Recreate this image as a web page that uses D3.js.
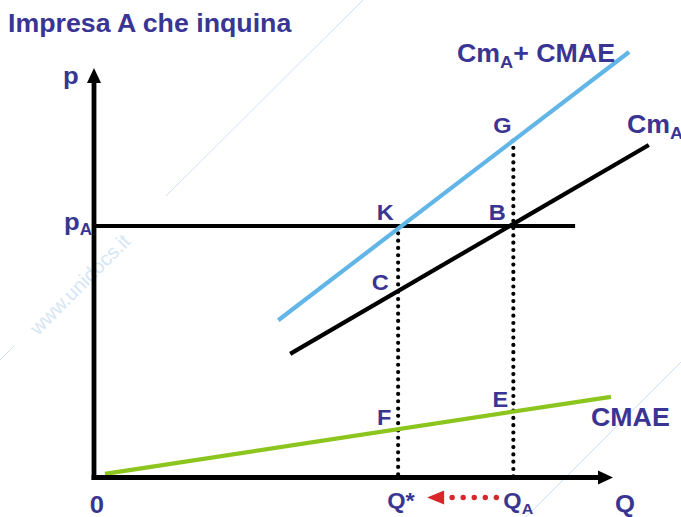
<!DOCTYPE html>
<html>
<head>
<meta charset="utf-8">
<script src="https://cdn.jsdelivr.net/npm/d3@7/dist/d3.min.js"></script>
<style>
  html, body { margin: 0; padding: 0; background: #fff; }
  svg { display: block; }
  text { font-family: "Liberation Sans", Arial, sans-serif; }
</style>
</head>
<body>
<svg id="chart" width="681" height="517"></svg>
<script>
// Quantity (Q) and price (p) on a 0–100 scale.
const cmaeLine = [[2.1, 0.9], [99.6, 19.7]];      // CMAE: external marginal cost
const cmALine  = [[37.8, 30.2], [106.9, 81.2]];   // Cm_A: private marginal cost
const sumLine  = [[35.5, 38.4], [103.1, 103.9]];  // Cm_A + CMAE
const priceA = 61.4;
const priceExtent = [0, 92.7];
const qStar = 58.6;
const qA = 80.8;
const pointNames = ["K", "B", "C", "G", "F", "E"];

const W = 681, H = 517;
const INK = "#3a3592";
const svg = d3.select("#chart");

const x = d3.scaleLinear().domain([0, 100]).range([94, 613]);
const y = d3.scaleLinear().domain([0, 100]).range([477.5, 68]);

// value of a straight line (two end points) at quantity q
function at(line, q) {
  const [[q0, p0], [q1, p1]] = line;
  return p0 + (p1 - p0) * (q - q0) / (q1 - q0);
}

// faint diagonal watermark
const wm = svg.append("g").attr("stroke", "#cfe1f3").attr("stroke-width", 1);
wm.append("line").attr("x1", 363).attr("y1", 0).attr("x2", 166).attr("y2", 196);
wm.append("line").attr("x1", 14).attr("y1", 346).attr("x2", 0).attr("y2", 360);
wm.append("line").attr("x1", 682).attr("y1", 361).attr("x2", 525).attr("y2", 518);
svg.append("text").text("www.unidocs.it")
  .attr("transform", "translate(38,336) rotate(-45)")
  .attr("font-size", 20)
  .style("font-weight", "normal")
  .attr("fill", "#d6e6f5");

// scaled text helper (slightly wide lettering)
function label(g, px, py, size, anchor) {
  return g.append("text")
    .attr("transform", `translate(${px},${py}) scale(1.07,1)`)
    .attr("font-size", size)
    .style("font-weight", "bold")
    .attr("text-anchor", anchor || "start")
    .attr("fill", INK);
}

const lineGen = d3.line().x(d => x(d[0])).y(d => y(d[1]));

// price line p_A
svg.append("path")
  .attr("d", lineGen([[priceExtent[0], priceA], [priceExtent[1], priceA]]))
  .attr("stroke", "#000").attr("stroke-width", 4).attr("fill", "none");

// dotted verticals at Q* and Q_A
const dotted = [
  [[qStar, priceA], [qStar, 0]],
  [[qA, at(sumLine, qA)], [qA, 0]]
];
svg.selectAll("path.dot").data(dotted).join("path")
  .attr("class", "dot")
  .attr("d", lineGen)
  .attr("stroke", "#000").attr("stroke-width", 4.2)
  .attr("stroke-linecap", "round")
  .attr("stroke-dasharray", "0 7.3")
  .attr("fill", "none");

// curves
const curves = [
  { data: cmaeLine, color: "#8cc51e" },
  { data: cmALine,  color: "#000000" },
  { data: sumLine,  color: "#62b6e7" }
];
svg.selectAll("path.curve").data(curves).join("path")
  .attr("class", "curve")
  .attr("d", d => lineGen(d.data))
  .attr("stroke", d => d.color).attr("stroke-width", 4.2)
  .attr("fill", "none");

// axes with arrow heads
const x0 = x(0), y0 = y(0), xTip = x(100), yTip = y(100);
svg.append("line").attr("x1", x0).attr("y1", y0 + 2.4).attr("x2", x0).attr("y2", yTip + 12)
  .attr("stroke", "#000").attr("stroke-width", 4.8);
svg.append("path")
  .attr("d", `M${x0},${yTip} L${x0 + 7},${yTip + 15} L${x0 - 7},${yTip + 15} Z`)
  .attr("fill", "#000");
svg.append("line").attr("x1", x0 - 2.4).attr("y1", y0).attr("x2", xTip - 12).attr("y2", y0)
  .attr("stroke", "#000").attr("stroke-width", 4.8);
svg.append("path")
  .attr("d", `M${xTip},${y0} L${xTip - 15},${y0 - 7} L${xTip - 15},${y0 + 7} Z`)
  .attr("fill", "#000");

// red arrow from Q_A back to Q*
const RED = "#d8262b";
const aStart = x(qStar) + 29, aEnd = x(qA) - 17, ay = y0 + 20;
svg.append("path")
  .attr("d", `M${aStart},${ay} L${aStart + 17},${ay - 7} L${aStart + 17},${ay + 7} Z`)
  .attr("fill", RED);
svg.selectAll("circle.rd").data(d3.range(5)).join("circle")
  .attr("class", "rd")
  .attr("cx", i => aStart + 25 + i * (aEnd - aStart - 25) / 4)
  .attr("cy", ay).attr("r", 2.7).attr("fill", RED);

// title
label(svg, 8, 32, 25).text("Impresa A che inquina");

// axis labels
label(svg, 63, 84, 24).text("p");
const pa = label(svg, 64, y(priceA) + 4, 24);
pa.append("tspan").text("p");
pa.append("tspan").attr("font-size", 16).attr("dy", 5).text("A");
label(svg, x0 + 3, 513, 24, "middle").text("0");
label(svg, xTip + 2, 512, 24).text("Q");
label(svg, x(qStar) - 11, 508, 22).text("Q*");
const qa = label(svg, x(qA) - 10, 508, 22);
qa.append("tspan").text("Q");
qa.append("tspan").attr("font-size", 15).attr("dy", 6).text("A");

// point labels
const pts = {
  K: [qStar, priceA, -13, -6],
  B: [qA, priceA, -16, -6],
  C: [qStar, at(cmALine, qStar), -18, -1],
  G: [qA, at(sumLine, qA), -11, -8],
  F: [qStar, at(cmaeLine, qStar), -14, -4],
  E: [qA, at(cmaeLine, qA), -13, -5]
};
pointNames.forEach(n => {
  const [q, p, dx, dy] = pts[n];
  label(svg, x(q) + dx, y(p) + dy, 22, "middle").text(n);
});

// curve labels
const l1 = label(svg, 457, 62, 25);
l1.append("tspan").text("Cm");
l1.append("tspan").attr("font-size", 17).attr("dy", 6).text("A");
l1.append("tspan").attr("dy", -6).text("+ CMAE");
const l2 = label(svg, 627, 133, 25);
l2.append("tspan").text("Cm");
l2.append("tspan").attr("font-size", 17).attr("dy", 6).text("A");
label(svg, 591, 426, 25).text("CMAE");
</script>
</body>
</html>
